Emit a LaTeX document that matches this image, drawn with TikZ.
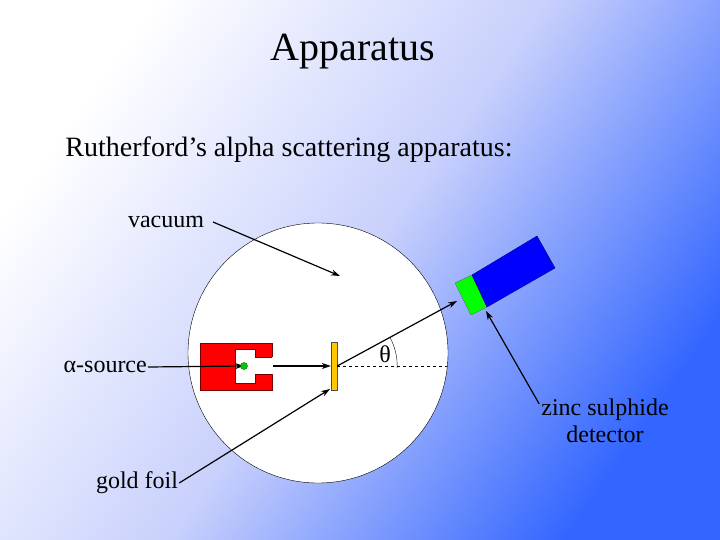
\documentclass[tikz,border=0pt]{standalone}
\usepackage{fontspec}
\setmainfont{Liberation Serif}
\usetikzlibrary{arrows.meta}
\definecolor{bgblue}{RGB}{51,102,255}
\definecolor{bgmid}{RGB}{200,208,252}
\definecolor{darkred}{RGB}{120,0,0}
\definecolor{gold}{RGB}{255,200,0}
\begin{document}
\begin{tikzpicture}[x=1pt,y=-1pt,
  arr/.style={-{Stealth[length=9pt,width=6pt]},line width=1.2pt},
  lbl/.style={font=\fontsize{24}{27}\selectfont,inner sep=1pt}]
\shade[top color=white,bottom color=bgblue,middle color=bgmid,shading angle=55] (0,0) rectangle (720,540);
\useasboundingbox (0,0) rectangle (720,540);
\node[font=\fontsize{40}{44}\selectfont] (title) at (353,52) {Apparatus};
\node[font=\fontsize{28}{32}\selectfont] (sub) at (289,150) {Rutherford’s alpha scattering apparatus:};
\fill[white,draw=black,line width=0.4pt] (318,353) circle (130);
% source
\fill[red,draw=darkred] (200,343) -- (272,343) -- (272,357) -- (255,357) -- (255,374) -- (272,374) -- (272,390) -- (200,390) -- cycle;
\fill[white] (235,349) rectangle (255,383) (254,357) rectangle (273,374);
\draw[darkred] (272,357) -- (255,357) -- (255,349) -- (235,349) -- (235,383) -- (255,383) -- (255,374) -- (272,374);
\coordinate (dot) at (244,366);
\node[lbl,anchor=east] (alpha) at (148,367) {α-source};
\draw[arr] (alpha.east) -- (dot);
\fill[green!80!black,draw=green!40!black] (dot) circle (3.5);
% foil
\node[draw=black!70,fill=gold,minimum width=6pt,minimum height=48pt,inner sep=0pt] (foil) at (334,366) {};
\coordinate (exit) at (273,366);
\draw[arr] (exit) -- (foil.west);
\draw[dashed] (foil.east) -- (447,366);
\draw (foil.east) ++(-28:60) arc (-28:2:60);
\node[lbl] (theta) at (385,354) {θ};
% detector
\fill[green,draw=black!60] (455,283) -- (472,275) -- (487,307) -- (471,315) -- cycle;
\fill[blue,draw=blue!50!black] (472,275) -- (537,236) -- (555,268) -- (487,307) -- cycle;
\coordinate (det) at (457,301);
\draw[arr] (foil.east) -- (det);
% labels
\node[lbl,anchor=south] (vac) at (166,229) {vacuum};
\coordinate (vt) at (340,276);
\draw[arr] (213,222) -- (vt);
\node[lbl,align=center] (zinc) at (605,421) {zinc sulphide\\detector};
\coordinate (zt) at (486,311);
\draw[arr] (zinc.north west) ++(-1,6) -- (zt);
\node[lbl] (gold) at (137,483) {gold foil};
\coordinate (gt) at (330,389);
\draw[arr] (gold.east) -- (gt);
\end{tikzpicture}
\end{document}
